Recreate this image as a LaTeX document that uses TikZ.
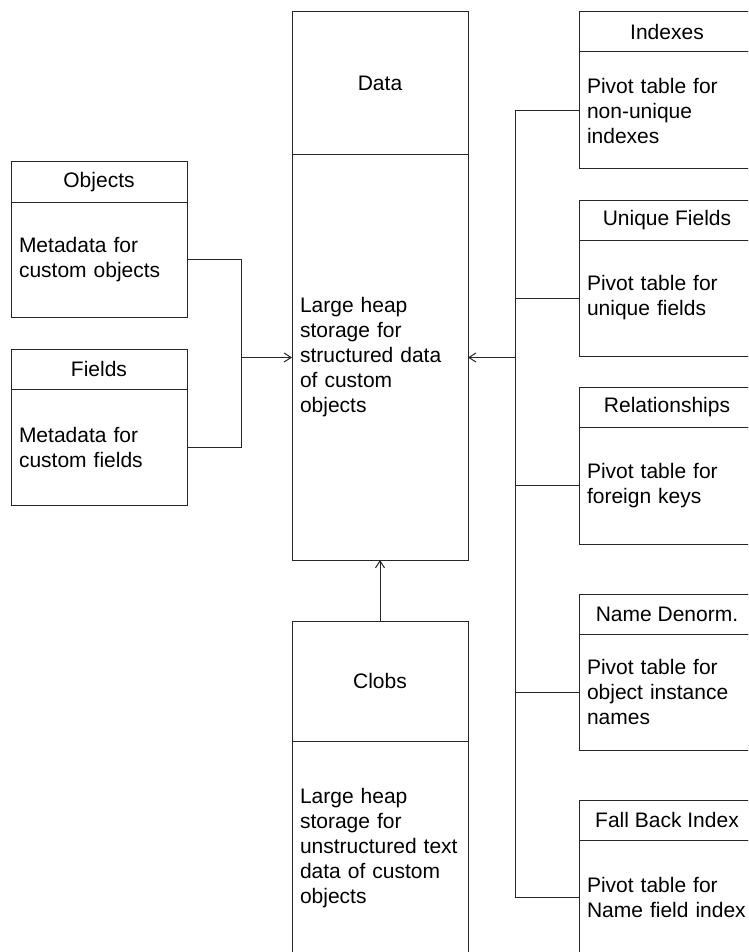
\documentclass[tikz,border=0pt]{standalone}
\usepackage{fontspec}
\setmainfont{Liberation Sans}
\usetikzlibrary{arrows.meta,positioning}

\begin{document}
\begin{tikzpicture}[x=1pt, y=-1pt, >={Straight Barb[length=7pt,width=9pt]},
    font=\fontsize{21}{25}\selectfont,
    conn/.style={line width=1pt, draw=black!85},
    head/.style={draw=black!85, line width=1pt, minimum width=176pt, inner sep=0pt, outer sep=0pt, anchor=center},
    body/.style={draw=black!85, line width=1pt, text width=160pt, inner xsep=8pt, inner ysep=0pt, outer sep=0pt, align=left}]
    \useasboundingbox (0,0) rectangle (748,952);
    \clip (0,0) rectangle (748,952);

    % Data table (centre)
    \node[head, minimum height=143pt] (datahead) at (380,83.5) {Data};
    \node[body, below=0pt of datahead, minimum height=405pt] (databody)
        {Large heap\\storage for\\structured data\\of custom\\objects};

    % Clobs table
    \node[head, minimum height=120pt] (clobshead) at (380,681) {Clobs};
    \node[body, below=0pt of clobshead, minimum height=215pt] (clobsbody)
        {Large heap\\storage for\\unstructured text\\data of custom\\objects};

    % Metadata tables (left)
    \node[head, minimum height=40pt] (objhead) at (99,182) {Objects};
    \node[body, below=0pt of objhead, minimum height=115pt] (objbody)
        {Metadata for\\custom objects};
    \node[head, minimum height=40pt] (fldhead) at (99,369) {Fields};
    \node[body, below=0pt of fldhead, minimum height=116pt] (fldbody)
        {Metadata for\\custom fields};

    % Pivot tables (right)
    \node[head, minimum height=40pt] (idxhead) at (667,32) {Indexes};
    \node[body, below=0pt of idxhead, minimum height=117pt] (idxbody)
        {Pivot table for\\non-unique\\indexes};
    \node[head, minimum height=40pt] (uniqhead) at (667,220) {Unique Fields};
    \node[body, below=0pt of uniqhead, minimum height=116pt] (uniqbody)
        {Pivot table for\\unique fields};
    \node[head, minimum height=40pt] (relhead) at (667,407) {Relationships};
    \node[body, below=0pt of relhead, minimum height=117pt] (relbody)
        {Pivot table for\\foreign keys};
    \node[head, minimum height=40pt] (namehead) at (667,614) {Name Denorm.};
    \node[body, below=0pt of namehead, minimum height=116pt] (namebody)
        {Pivot table for\\object instance\\names};
    \node[head, minimum height=40pt] (fbhead) at (667,820) {Fall Back Index};
    \node[body, below=0pt of fbhead, minimum height=114pt] (fbbody)
        {Pivot table for\\Name field index};

    % Connectors
    \coordinate (ljoin) at (241,357.5);
    \coordinate (rjoin) at (515,357.5);
    \draw[conn] (objbody.east) -| (ljoin);
    \draw[conn] (fldbody.east) -| (ljoin);
    \draw[conn, ->] (ljoin) -- (databody.west);
    \foreach \t in {idxbody,uniqbody,relbody,namebody,fbbody}
        \draw[conn] (\t.west) -| (rjoin);
    \draw[conn, ->] (rjoin) -- (databody.east);
    \draw[conn, ->] (clobshead.north) -- (databody.south);

\end{tikzpicture}
\end{document}
